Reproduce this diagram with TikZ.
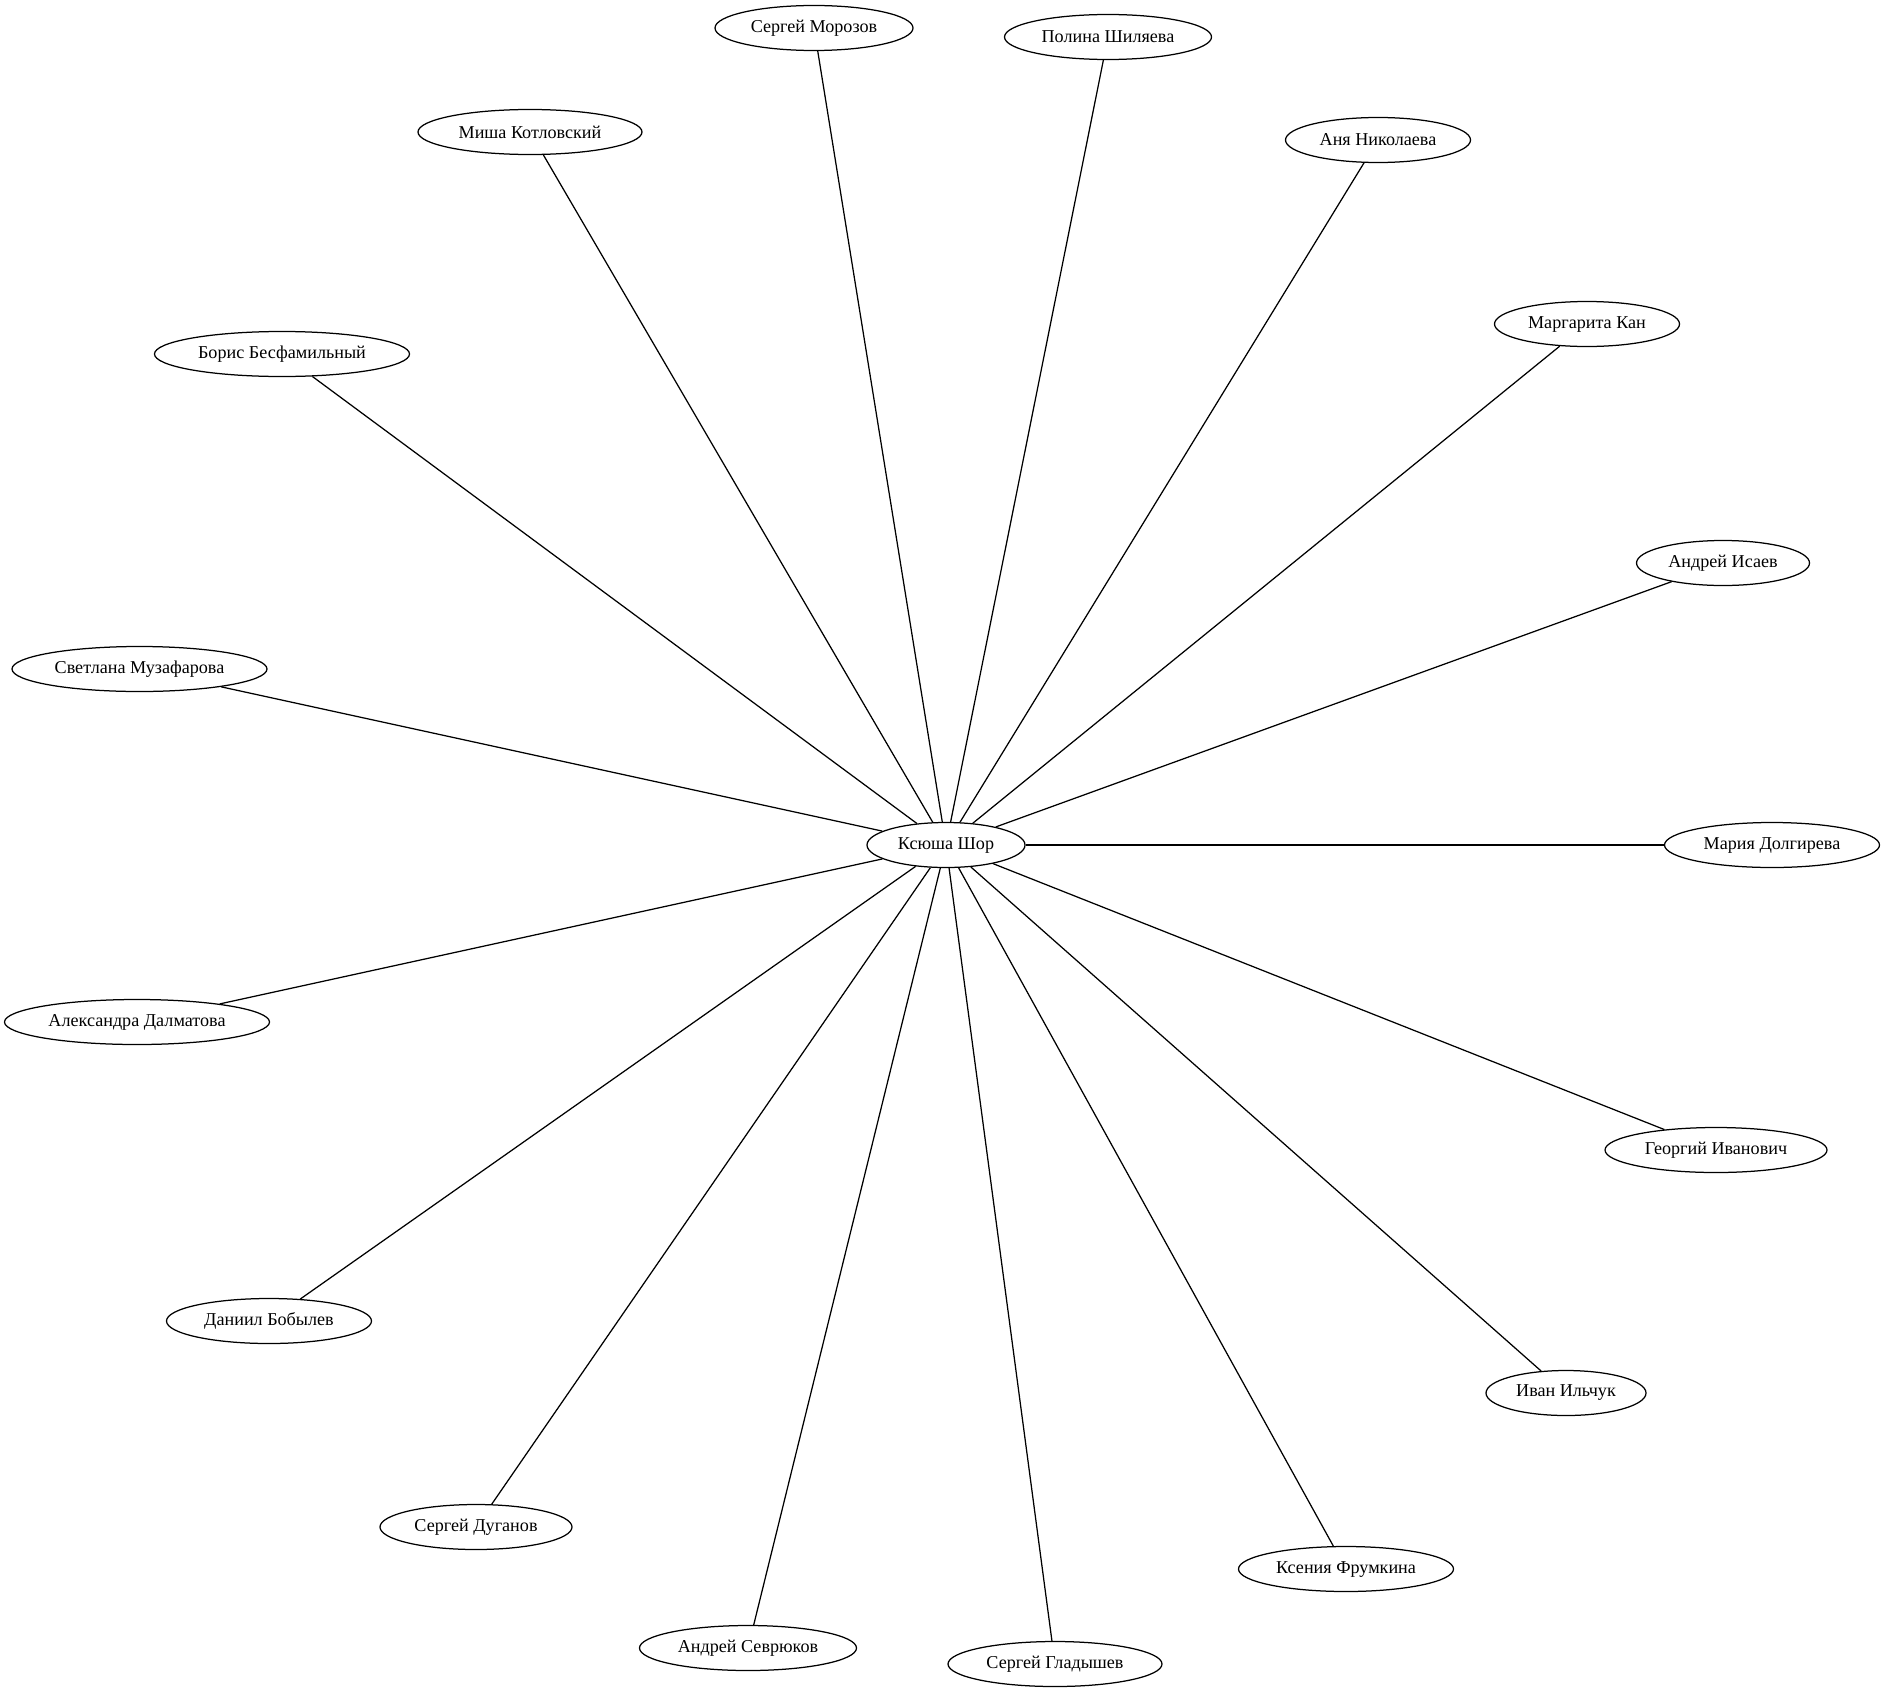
\documentclass[tikz,border=0pt]{standalone}
\usepackage{fontspec}
\setmainfont{Liberation Serif}
\usetikzlibrary{shapes.geometric}
\tikzset{
  person/.style={draw, ellipse, line width=1pt, inner sep=0pt,
    minimum height=36pt, font=\fontsize{14.5}{17}\selectfont},
  link/.style={line width=1pt}
}
\begin{document}
\begin{tikzpicture}[x=0.8pt, y=-0.8pt]
\useasboundingbox (0,0) rectangle (1884,1694);
\node[person, minimum width=126.4pt] (ksyusha) at (946,845) {Ксюша Шор};
\node[person, minimum width=158.4pt] (morozov) at (814,28) {Сергей Морозов};
\node[person, minimum width=165.6pt] (polina) at (1108,37) {Полина Шиляева};
\node[person, minimum width=179.2pt] (misha) at (530,132) {Миша Котловский};
\node[person, minimum width=148pt] (anya) at (1378,140) {Аня Николаева};
\node[person, minimum width=204pt] (boris) at (282,354) {Борис Бесфамильный};
\node[person, minimum width=148pt] (margarita) at (1587,324) {Маргарита Кан};
\node[person, minimum width=138.4pt] (isaev) at (1723,563) {Андрей Исаев};
\node[person, minimum width=204pt] (svetlana) at (139.5,669) {Светлана Музафарова};
\node[person, minimum width=172pt] (maria) at (1772,845) {Мария Долгирева};
\node[person, minimum width=212pt] (alexandra) at (137,1022) {Александра Далматова};
\node[person, minimum width=177.6pt] (georgiy) at (1716,1150) {Георгий Иванович};
\node[person, minimum width=164pt] (daniil) at (269,1321) {Даниил Бобылев};
\node[person, minimum width=128pt] (ivan) at (1566,1393) {Иван Ильчук};
\node[person, minimum width=153.6pt] (duganov) at (476,1527) {Сергей Дуганов};
\node[person, minimum width=172pt] (frumkina) at (1346,1569) {Ксения Фрумкина};
\node[person, minimum width=173.6pt] (sevryukov) at (748,1648) {Андрей Севрюков};
\node[person, minimum width=171.2pt] (gladyshev) at (1055,1664) {Сергей Гладышев};
\foreach \n in {morozov,polina,misha,anya,boris,margarita,isaev,svetlana,maria,
  alexandra,georgiy,daniil,ivan,duganov,frumkina,sevryukov,gladyshev}
  \draw[link] (ksyusha) -- (\n);
\end{tikzpicture}
\end{document}
